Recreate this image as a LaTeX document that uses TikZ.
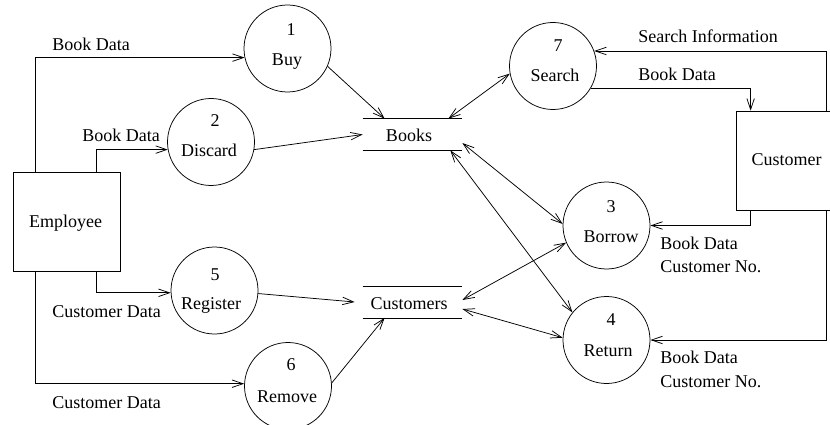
\documentclass[tikz,border=0pt]{standalone}
\usepackage{fontspec}
\setmainfont{Liberation Serif}
\usetikzlibrary{arrows.meta}
\newcommand\dfdfont{\fontsize{18}{21}\selectfont}
\begin{document}
\begin{tikzpicture}[x=1pt,y=-1pt,line width=0.75pt,
  >={Straight Barb[length=11pt,width=7.5pt]},
  proc/.style={draw,circle,minimum size=87pt,inner sep=0pt},
  ent/.style={draw,rectangle,inner sep=0pt},
  store/.style={rectangle,minimum width=99pt,minimum height=31pt,inner sep=0pt},
  txt/.style={anchor=base,inner sep=0pt,font=\dfdfont},
  ltxt/.style={anchor=base west,inner sep=0pt,font=\dfdfont},
]
\useasboundingbox (0,0) rectangle (830,425);

% entities
\node[ent,minimum width=107pt,minimum height=99pt] (emp) at (66.5,221.5) {};
\node[ent,minimum width=104pt,minimum height=99pt] (cust) at (788,160.5) {};
\node[txt] (empt) at (65.5,227) {Employee};
\node[txt] (custt) at (786.5,165) {Customer};

% processes
\node[proc] (c1) at (287.5,48.5) {};
\node[proc] (c2) at (211,142) {};
\node[proc] (c7) at (553,66) {};
\node[proc] (c3) at (606.5,225.5) {};
\node[proc] (c4) at (606.5,340) {};
\node[proc] (c5) at (214.5,290.5) {};
\node[proc] (c6) at (288,386) {};

\node[txt] (n1) at (291,36) {1};   \node[txt] (t1) at (287,66) {Buy};
\node[txt] (n2) at (215,127) {2};  \node[txt] (t2) at (209,157) {Discard};
\node[txt] (n7) at (558,52) {7};   \node[txt] (t7) at (555,82) {Search};
\node[txt] (n3) at (611,212) {3};  \node[txt] (t3) at (611,242) {Borrow};
\node[txt] (n4) at (611,325) {4};  \node[txt] (t4) at (608,356) {Return};
\node[txt] (n5) at (215,280) {5};  \node[txt] (t5) at (211,309) {Register};
\node[txt] (n6) at (291,370) {6};  \node[txt] (t6) at (287,402) {Remove};

% stores
\node[store] (books) at (412.5,134.5) {};
\node[store] (custs) at (412.5,302) {};
\draw (books.north west) -- (books.north east) (books.south west) -- (books.south east);
\draw (custs.north west) -- (custs.north east) (custs.south west) -- (custs.south east);
\node[txt] (bookst) at (409,142) {Books};
\node[txt] (custst) at (409,309) {Customers};

% flows
\draw[->] ([xshift=23pt]emp.north west) |- (c1.192.6);
\draw[->] ([xshift=84pt]emp.north west) |- (c2.190.7);
\draw[->] (c1.-24) -- ([xshift=22pt]books.north west);
\draw[->] (c2.-10) -- (books.west);
\draw[<->] ([xshift=-14pt]books.north east) -- (c7.190);
\draw[->] (c7.-30) -| ([xshift=15pt]cust.north west);
\draw[->] ([xshift=91pt]cust.north west) |- (c7.20.4);
\draw[<->] ([yshift=-8.5pt]books.east) -- (c3.178);
\draw[<->] ([xshift=-12pt]books.south east) -- (c4.141.6);
\draw[<->] ([yshift=2pt]custs.east) -- (c3.203);
\draw[<->] ([yshift=-7pt]custs.east) -- (c4.177);
\draw[->] ([xshift=15pt]cust.south west) |- (c3.east);
\draw[->] ([xshift=91pt]cust.south west) |- (c4.east);
\draw[->] ([xshift=84pt]emp.south west) |- (c5.183.3);
\draw[->] (c5.-4.6) -- ([xshift=-8pt]custs.west);
\draw[->] ([xshift=23pt]emp.south west) |- (c6.177.3);
\draw[->] (c6.4) -- ([xshift=22pt]custs.south west);

% labels
\node[ltxt] (l1) at (52,51) {Book Data};
\node[ltxt] (l2) at (82,142) {Book Data};
\node[ltxt] (l3) at (638,43) {Search Information};
\node[ltxt] (l4) at (638,81) {Book Data};
\node[ltxt] (l5) at (660,249) {Book Data};
\node[ltxt] (l6) at (660,272) {Customer No.};
\node[ltxt] (l7) at (660,363) {Book Data};
\node[ltxt] (l8) at (660,387) {Customer No.};
\node[ltxt] (l9) at (52,317) {Customer Data};
\node[ltxt] (l10) at (52,408) {Customer Data};
\end{tikzpicture}
\end{document}
